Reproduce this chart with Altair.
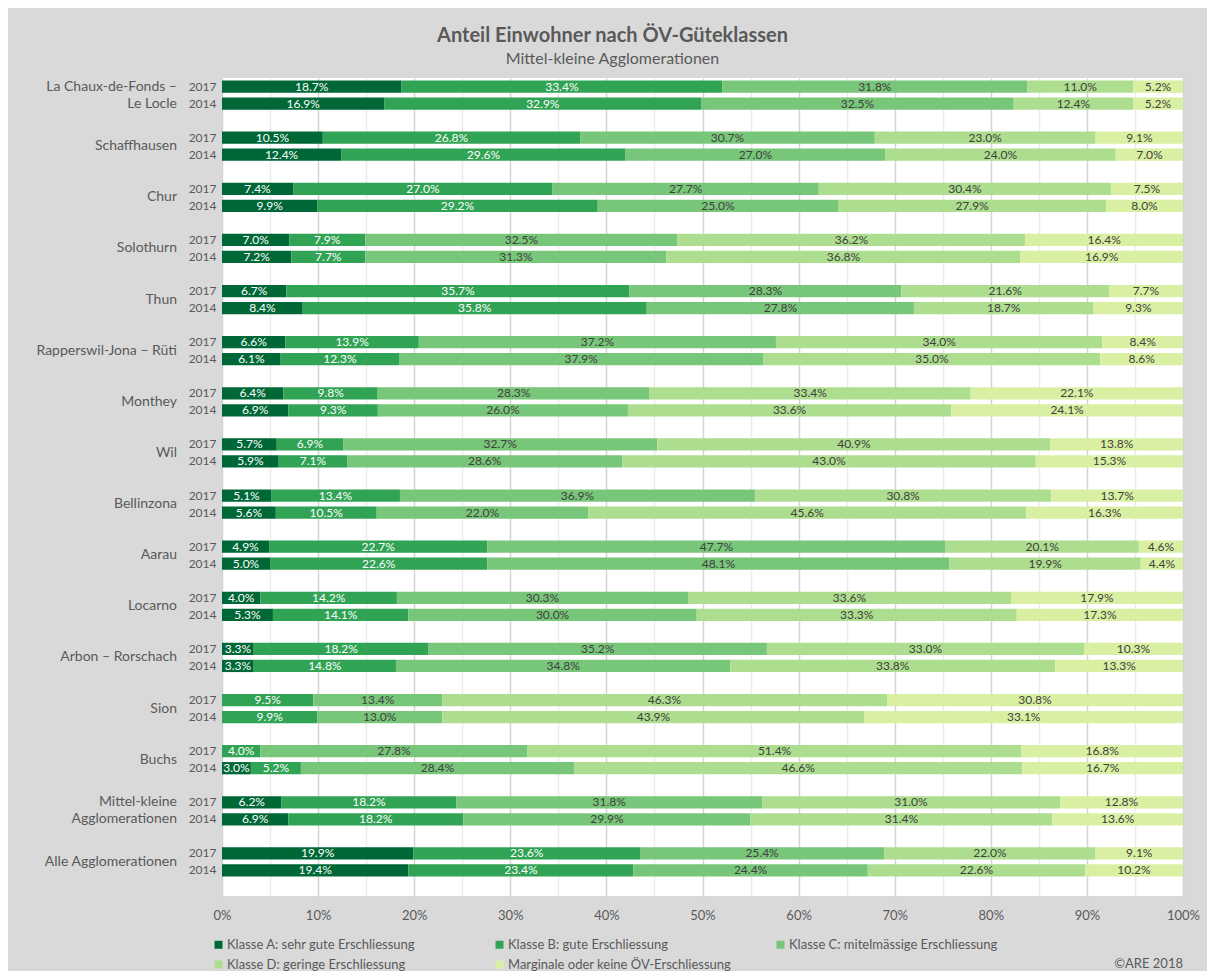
import altair as alt
import pandas as pd

# ---------------- data ----------------
region_lines = [
    ["La Chaux-de-Fonds –", "Le Locle"],
    ["Schaffhausen"],
    ["Chur"],
    ["Solothurn"],
    ["Thun"],
    ["Rapperswil-Jona – Rüti"],
    ["Monthey"],
    ["Wil"],
    ["Bellinzona"],
    ["Aarau"],
    ["Locarno"],
    ["Arbon – Rorschach"],
    ["Sion"],
    ["Buchs"],
    ["Mittel-kleine", "Agglomerationen"],
    ["Alle Agglomerationen"],
]
years = ["2017", "2014"]
classes = [
    "Klasse A: sehr gute Erschliessung",
    "Klasse B: gute Erschliessung",
    "Klasse C: mitelmässige Erschliessung",
    "Klasse D: geringe Erschliessung",
    "Marginale oder keine ÖV-Erschliessung",
]
class_colors = ["#006837", "#31a354", "#78c679", "#addd8e", "#d9f0a3"]

a_2017 = [18.7, 10.5, 7.4, 7.0, 6.7, 6.6, 6.4, 5.7, 5.1, 4.9, 4.0, 3.3, None, None, 6.2, 19.9]
b_2017 = [33.4, 26.8, 27.0, 7.9, 35.7, 13.9, 9.8, 6.9, 13.4, 22.7, 14.2, 18.2, 9.5, 4.0, 18.2, 23.6]
c_2017 = [31.8, 30.7, 27.7, 32.5, 28.3, 37.2, 28.3, 32.7, 36.9, 47.7, 30.3, 35.2, 13.4, 27.8, 31.8, 25.4]
d_2017 = [11.0, 23.0, 30.4, 36.2, 21.6, 34.0, 33.4, 40.9, 30.8, 20.1, 33.6, 33.0, 46.3, 51.4, 31.0, 22.0]
e_2017 = [5.2, 9.1, 7.5, 16.4, 7.7, 8.4, 22.1, 13.8, 13.7, 4.6, 17.9, 10.3, 30.8, 16.8, 12.8, 9.1]

a_2014 = [16.9, 12.4, 9.9, 7.2, 8.4, 6.1, 6.9, 5.9, 5.6, 5.0, 5.3, 3.3, None, 3.0, 6.9, 19.4]
b_2014 = [32.9, 29.6, 29.2, 7.7, 35.8, 12.3, 9.3, 7.1, 10.5, 22.6, 14.1, 14.8, 9.9, 5.2, 18.2, 23.4]
c_2014 = [32.5, 27.0, 25.0, 31.3, 27.8, 37.9, 26.0, 28.6, 22.0, 48.1, 30.0, 34.8, 13.0, 28.4, 29.9, 24.4]
d_2014 = [12.4, 24.0, 27.9, 36.8, 18.7, 35.0, 33.6, 43.0, 45.6, 19.9, 33.3, 33.8, 43.9, 46.6, 31.4, 22.6]
e_2014 = [5.2, 7.0, 8.0, 16.9, 9.3, 8.6, 24.1, 15.3, 16.3, 4.4, 17.3, 13.3, 33.1, 16.7, 13.6, 10.2]

values = {
    "2017": [a_2017, b_2017, c_2017, d_2017, e_2017],
    "2014": [a_2014, b_2014, c_2014, d_2014, e_2014],
}

# ---------------- tables ----------------
slots = []
for g in range(len(region_lines)):
    slots += [f"{g:02d}|2017", f"{g:02d}|2014", f"{g:02d}|"]

rows = []
for g in range(len(region_lines)):
    for y in years:
        for ci, cname in enumerate(classes):
            v = values[y][ci][g]
            if v is None:
                continue
            rows.append({"slot": f"{g:02d}|{y}", "klasse": cname, "order": ci, "value": v})
df = pd.DataFrame(rows)

single = []
multi = []
for g, lines in enumerate(region_lines):
    if len(lines) == 1:
        single.append({"slot": f"{g:02d}|2017", "name": lines[0]})
    else:
        for y, line in zip(years, lines):
            multi.append({"slot": f"{g:02d}|{y}", "name": line})
df_single = pd.DataFrame(single)
df_multi = pd.DataFrame(multi)

FONT = "Lato"
GREY = "#595959"
W, H = 961, 818

yscale = alt.Scale(domain=slots, paddingInner=0.28, paddingOuter=0.14)
y_enc = alt.Y(
    "slot:N",
    scale=yscale,
    axis=alt.Axis(
        labelExpr="slice(datum.value, 3)",
        ticks=False,
        domain=False,
        grid=False,
        labelPadding=6,
        labelFontSize=12,
        labelColor=GREY,
        title=None,
    ),
)

x_axis = alt.Axis(
    values=[i / 20 for i in range(21)],
    format="%",
    labelExpr="round(datum.value*100) % 10 == 0 ? datum.label : ''",
    gridColor={"condition": {"test": "round(datum.value*100) % 10 == 0", "value": "#d4d4d4"}, "value": "#ebebeb"},
    gridWidth=1.5,
    domain=False,
    ticks=False,
    labelFlush=False,
    labelPadding=13,
    labelFontSize=13,
    labelColor=GREY,
    title=None,
)

base = alt.Chart(df).transform_stack(
    stack="value",
    groupby=["slot"],
    as_=["x0", "x1"],
    offset="normalize",
    sort=[alt.SortField("order")],
).transform_calculate(
    mid="(datum.x0 + datum.x1) / 2",
    lab="format(datum.value, '.1f') + '%'",
    tcol="datum.order <= 1 ? 'white' : '#404040'",
)

bars = base.mark_bar().encode(
    x=alt.X("x0:Q", scale=alt.Scale(domain=[0, 1], nice=False, zero=True), axis=x_axis),
    x2="x1:Q",
    y=y_enc,
    color=alt.Color(
        "klasse:N",
        scale=alt.Scale(domain=classes, range=class_colors),
        legend=alt.Legend(
            title=None,
            orient="none",
            direction="horizontal",
            legendX=-10,
            legendY=860,
            columns=3,
            gridAlign="all",
            columnPadding=42,
            rowPadding=6,
            symbolType="square",
            symbolSize=64,
            symbolStrokeWidth=0,
            labelFontSize=13,
            labelColor=GREY,
            labelOffset=2,
            labelLimit=400,
        ),
    ),
)

texts = base.mark_text(fontSize=12, baseline="middle", align="center").encode(
    x="mid:Q",
    y=alt.Y("slot:N", scale=yscale),
    text="lab:N",
    color=alt.Color("tcol:N", scale=None),
)

names_single = alt.Chart(df_single).mark_text(
    align="right", baseline="middle", dy=8.5, fontSize=14, color=GREY
).encode(x=alt.value(-45), y=alt.Y("slot:N", scale=yscale), text="name:N")

names_multi = alt.Chart(df_multi).mark_text(
    align="right", baseline="middle", fontSize=14, color=GREY
).encode(x=alt.value(-45), y=alt.Y("slot:N", scale=yscale), text="name:N")

copyright_txt = alt.Chart(pd.DataFrame({"t": ["©ARE 2018"]})).mark_text(
    align="right", baseline="middle", fontSize=13, color=GREY
).encode(x=alt.value(W), y=alt.value(886), text="t:N")

chart = alt.layer(bars, texts, names_single, names_multi, copyright_txt).properties(
    width=W,
    height=H,
    autosize=alt.AutoSizeParams(type="none"),
    padding={"left": 214, "top": 70, "right": 24, "bottom": 75},
    title=alt.TitleParams(
        text="Anteil Einwohner nach ÖV-Güteklassen",
        subtitle="Mittel-kleine Agglomerationen",
        fontSize=20,
        fontWeight="bold",
        color=GREY,
        subtitleFontSize=16,
        subtitleColor=GREY,
        subtitlePadding=5,
        anchor="middle",
        frame="group",
        dx=-90,
        offset=11,
        font=FONT,
        subtitleFont=FONT,
    ),
).configure(
    background="#d9d9d9",
    font=FONT,
).configure_view(
    stroke=None,
    fill="white",
)

chart.save("out.html", embed_options={"renderer": "svg", "actions": False})
